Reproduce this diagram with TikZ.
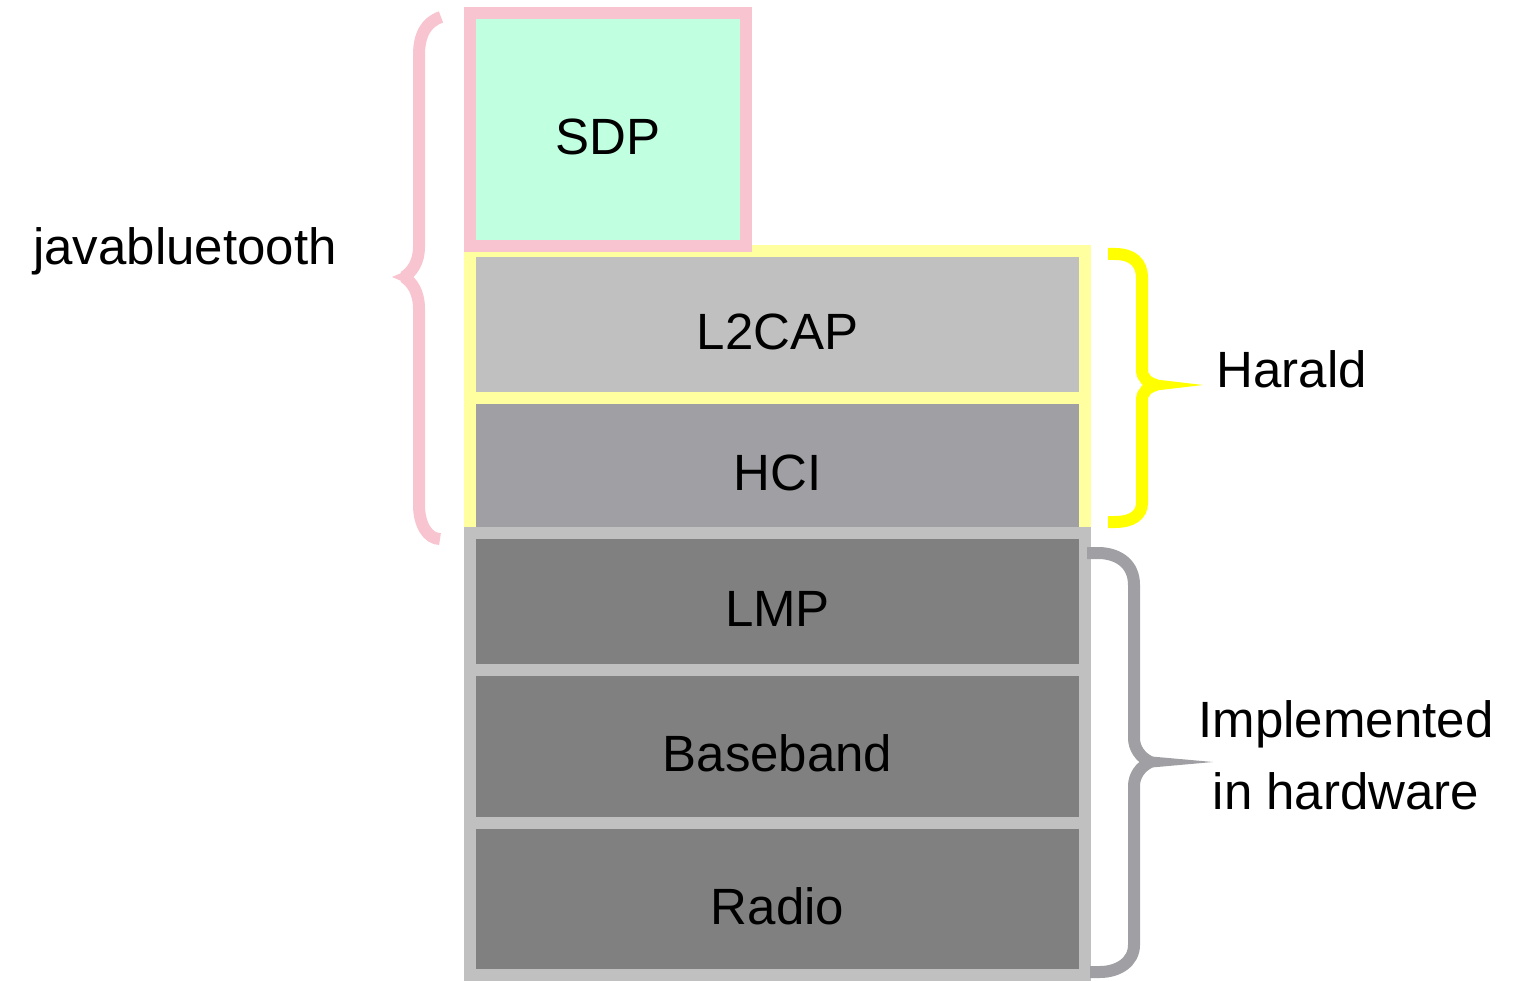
\documentclass[tikz,border=0pt]{standalone}
\usepackage{fontspec}
\setmainfont{Liberation Sans}
\usetikzlibrary{positioning}
\definecolor{sdpgreen}{HTML}{C0FFE0}
\definecolor{javapink}{HTML}{F8C4D0}
\definecolor{haraldyellow}{HTML}{FFFFA0}
\definecolor{braceyellow}{HTML}{FFFF00}
\definecolor{l2capgray}{HTML}{C0C0C0}
\definecolor{hcigray}{HTML}{A0A0A4}
\definecolor{framegray}{HTML}{C0C0C0}
\definecolor{hwgray}{HTML}{808080}
\definecolor{bracegray}{HTML}{A0A0A4}
\tikzset{
    layer/.style = {
        draw,
        line width=12pt,
        outer sep=0pt,
        minimum width=615pt,
        text height=50pt,
        text depth=0pt,
        font=\fontsize{51}{72}\selectfont,
        },
    harald layer/.style = {
        draw = haraldyellow,
        },
    hardware layer/.style = {
        draw = framegray,
        fill = hwgray,
        },
    brace/.style = {
        line width=12pt,
        },
    side label/.style = {
        font=\fontsize{51}{72}\selectfont,
        },
}

\begin{document}
\begin{tikzpicture}[x=1pt, y=-1pt, node distance=0pt]
    \useasboundingbox (0,0) rectangle (1513,981);

    % Harald layers
    \node[layer, harald layer, fill=l2capgray, minimum height=147pt] (l2cap) at (777.5,324.5) {L2CAP};
    \node[layer, harald layer, fill=hcigray, minimum height=135pt, below=of l2cap] (hci) {HCI};

    % hardware layers
    \node[layer, hardware layer, minimum height=137pt, below=of hci] (lmp) {LMP};
    \node[layer, hardware layer, minimum height=153pt, below=of lmp] (baseband) {Baseband};
    \node[layer, hardware layer, minimum height=152pt, below=of baseband] (radio) {Radio};

    % javabluetooth layer on top
    \node[layer, draw=javapink, fill=sdpgreen, minimum width=276pt, minimum height=233pt,
          anchor=south west] (sdp) at ([yshift=5pt]l2cap.north west) {SDP};

    % brace javabluetooth
    \draw[brace, javapink] (441,17) .. controls (426,22) and (419,35) .. (419,55) -- (419,247)
        .. controls (419,262) and (412,272) .. (404,277);
    \draw[brace, javapink] (404,277) .. controls (412,282) and (419,292) .. (419,309) -- (419,505)
        .. controls (419,525) and (428,539) .. (440,539);
    \fill[javapink] (406,271) -- (392,277) -- (406,283) -- cycle;

    % brace Harald
    \draw[brace, braceyellow] (1108,254) -- (1115,254) .. controls (1132,254) and (1142,262) .. (1142,278)
        -- (1142,370) .. controls (1142,378) and (1148,383) .. (1156,385);
    \draw[brace, braceyellow] (1156,385) .. controls (1148,387) and (1142,392) .. (1142,400)
        -- (1142,503) .. controls (1142,515) and (1132,522) .. (1115,522) -- (1108,522);
    \fill[braceyellow] (1152,379) -- (1203,385) -- (1152,391) -- cycle;

    % brace hardware
    \draw[brace, bracegray] (1087,553) -- (1100,553) .. controls (1120,554) and (1134,565) .. (1134,585)
        -- (1134,738) .. controls (1134,748) and (1140,757) .. (1150,762);
    \draw[brace, bracegray] (1150,762) .. controls (1140,767) and (1134,776) .. (1134,786)
        -- (1134,945) .. controls (1134,962) and (1118,972) .. (1100,972) -- (1090,972);
    \fill[bracegray] (1146,756) -- (1213,762) -- (1146,768) -- cycle;

    % labels
    \node[side label, anchor=base] (java) at (185,265) {javabluetooth};
    \node[side label, anchor=base west] (harald) at (1213,388) {Harald};
    \node[side label, align=center] (hardware) at (1346,755) {Implemented\\in hardware};
\end{tikzpicture}
\end{document}
